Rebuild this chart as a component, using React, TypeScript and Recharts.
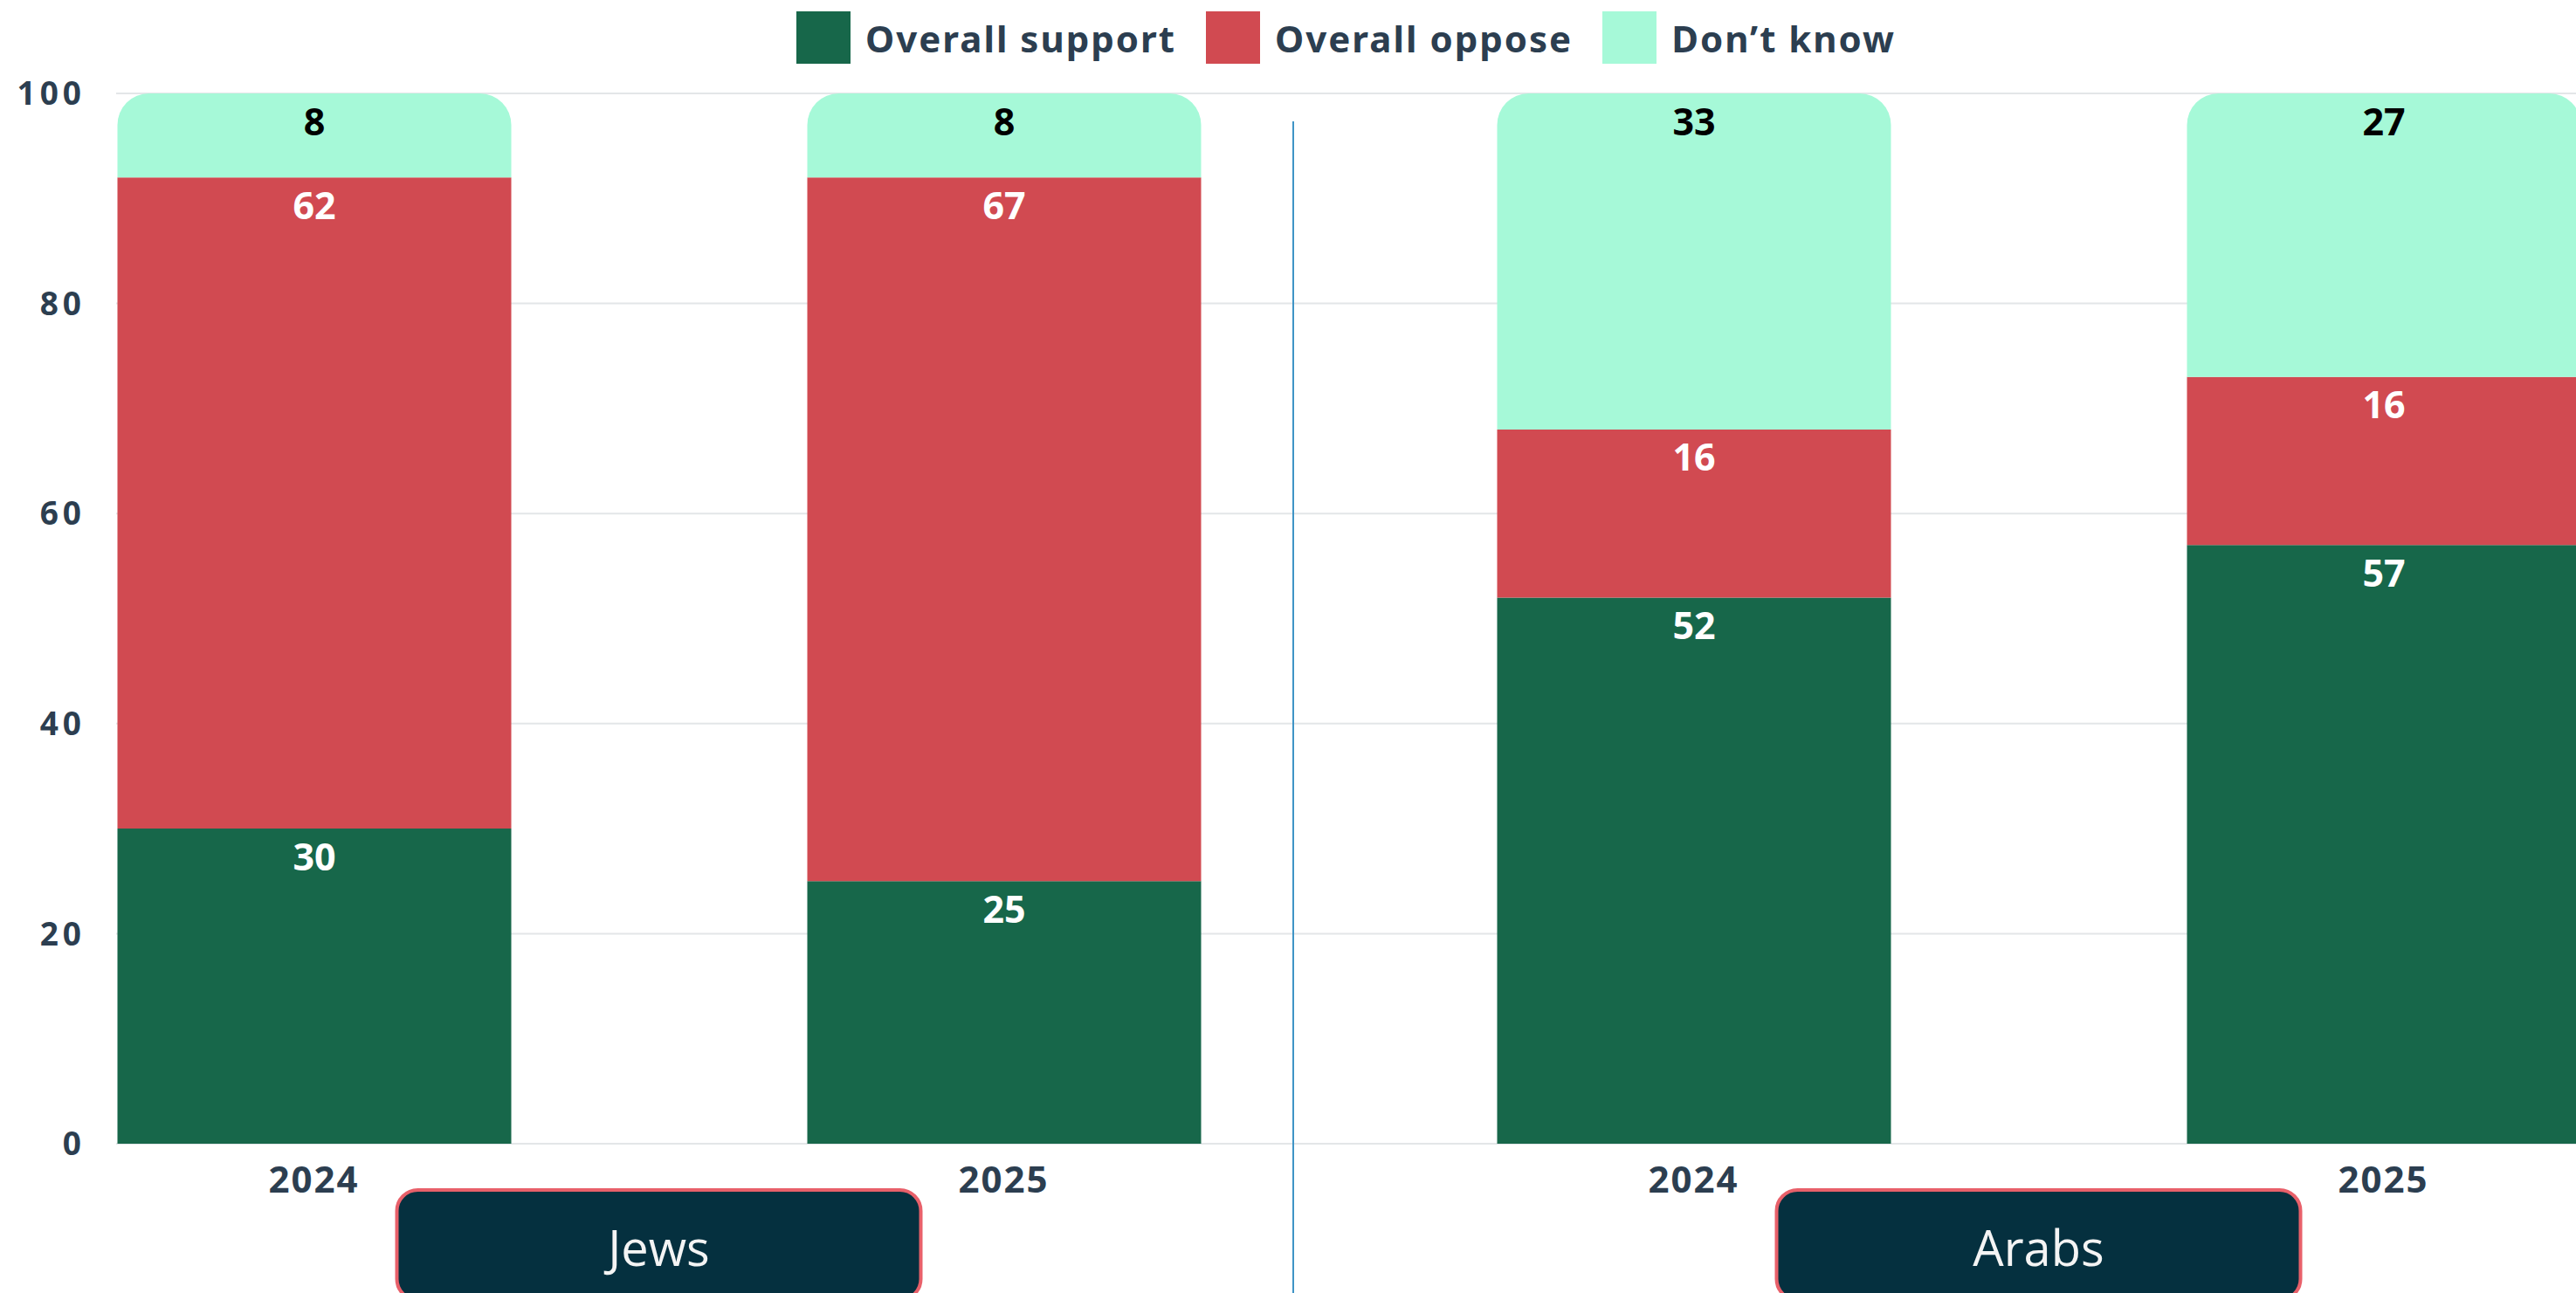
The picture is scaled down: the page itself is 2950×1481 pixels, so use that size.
import { BarChart, Bar, XAxis, YAxis, CartesianGrid, Legend, LabelList } from "recharts";

const years = ["2024", "2025", "2024", "2025"];
const groups = ["Jews", "Jews", "Arabs", "Arabs"];
const support = [30, 25, 52, 57];
const oppose = [62, 67, 16, 16];
const dontKnow = [8, 8, 33, 27];

const seriesNames = ["Overall support", "Overall oppose", "Don\u2019t know"];
const colors = ["#17674a", "#d14a51", "#a6f9d8"];

const data = years.map((y, i) => ({
  year: y,
  group: groups[i],
  support: support[i],
  oppose: oppose[i],
  dontKnow: dontKnow[i],
}));

const font = "'Noto Sans', 'Open Sans', sans-serif";
const slate = "#2c3e50";

const LegendBox = () => (
  <div style={{ height: 107, paddingTop: 13, paddingLeft: 133, boxSizing: "border-box" }}>
    <div style={{ display: "flex", justifyContent: "center", alignItems: "center", height: 60 }}>
      {seriesNames.map((n, i) => (
        <div key={n} style={{ display: "flex", alignItems: "center", marginRight: i < 2 ? 34 : 0 }}>
          <div style={{ width: 62, height: 60, background: colors[i], marginRight: 17 }} />
          <span style={{ fontFamily: font, fontSize: 42, fontWeight: 700, color: slate, letterSpacing: 2 }}>{n}</span>
        </div>
      ))}
    </div>
  </div>
);

const GroupTick = (props: any) => {
  const { x, y, payload } = props;
  return (
    <g>
      <rect x={x - 300} y={y + 3} width={600} height={126} rx={24} fill="#05303f" stroke="#e8606a" strokeWidth={4} />
      <text x={x} y={y + 68} textAnchor="middle" dominantBaseline="central" fill="#f4f4f4" fontSize={56} fontFamily="'Open Sans', sans-serif" fontWeight={400}>
        {payload.value}
      </text>
    </g>
  );
};

export default function App() {
  return (
    <div style={{ position: "absolute", left: 0, top: 0, width: 2950, height: 1481, overflow: "hidden", background: "#fff", fontFamily: font }}>
      <BarChart width={2950} height={1490} data={data} margin={{ top: 0, right: 0, left: 0, bottom: 0 }}>
        <CartesianGrid xAxisId="axis1" vertical={false} stroke="#e3e6e8" strokeWidth={2} />
        <Legend verticalAlign="top" content={<LegendBox />} />
        <XAxis
          xAxisId="axis1"
          dataKey="year"
          interval={0}
          axisLine={false}
          tickLine={false}
          tickSize={0}
          tickMargin={26}
          height={50}
          padding={{ left: -168.5, right: -174.5 }}
          tick={{ fontFamily: font, fontSize: 42, fontWeight: 700, fill: slate, letterSpacing: 2 }}
        />
        <XAxis
          xAxisId="axis2"
          dataKey="group"
          allowDuplicatedCategory={false}
          axisLine={false}
          tickLine={false}
          tickSize={0}
          tickMargin={0}
          height={130}
          padding={{ left: -168.5, right: -174.5 }}
          tick={<GroupTick />}
        />
        <YAxis
          domain={[0, 100]}
          ticks={[0, 20, 40, 60, 80, 100]}
          allowDataOverflow
          axisLine={false}
          tickLine={false}
          tickSize={0}
          tickMargin={35}
          width={133}
          tick={{ fontFamily: font, fontSize: 37, fontWeight: 700, fill: slate, letterSpacing: 5 }}
        />
        <Bar xAxisId="axis1" dataKey="support" name={seriesNames[0]} stackId="a" fill={colors[0]} barSize={451} isAnimationActive={false}>
          <LabelList dataKey="support" position="insideTop" offset={17} fill="#ffffff" fontSize={43} fontWeight={700} fontFamily={font} />
        </Bar>
        <Bar xAxisId="axis1" dataKey="oppose" name={seriesNames[1]} stackId="a" fill={colors[1]} barSize={451} isAnimationActive={false}>
          <LabelList dataKey="oppose" position="insideTop" offset={17} fill="#ffffff" fontSize={43} fontWeight={700} fontFamily={font} />
        </Bar>
        <Bar xAxisId="axis1" dataKey="dontKnow" name={seriesNames[2]} stackId="a" fill={colors[2]} barSize={451} radius={[36, 36, 0, 0]} isAnimationActive={false}>
          <LabelList dataKey="dontKnow" position="insideTop" offset={17} fill="#000000" fontSize={43} fontWeight={700} fontFamily={font} />
        </Bar>
      </BarChart>
      <div style={{ position: "absolute", left: 1480, top: 139, width: 2, height: 1342, background: "#3f94c6" }} />
    </div>
  );
}
